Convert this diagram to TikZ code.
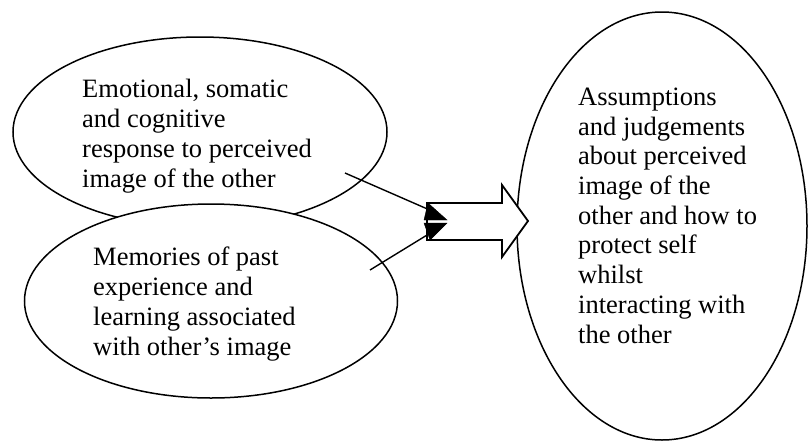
\documentclass[tikz,border=0pt]{standalone}
\usepackage{fontspec}
\setmainfont{Liberation Serif}
\usetikzlibrary{shapes.geometric}
\tikzset{
  oval/.style={ellipse, draw=black, line width=1.5pt, fill=white, inner sep=0pt},
  txt/.style={align=left, inner sep=0pt, anchor=base west, font=\fontsize{26.5}{29.7}\selectfont},
  conn/.style={line width=1.4pt},
  head/.style={fill=black, draw=black, line width=0.4pt},
  blockarrow/.style={draw=black, line width=1.8pt, fill=white, line join=miter}
}
\begin{document}
\begin{tikzpicture}[x=1pt,y=-1pt]
\useasboundingbox (0,0) rectangle (808,442);
\node[oval, minimum width=374pt, minimum height=190pt] (emo) at (200,132) {};
\node[oval, minimum width=373pt, minimum height=194pt] (mem) at (211,301) {};
\node[oval, minimum width=290pt, minimum height=428pt] (ass) at (662,226) {};
\node[txt] (emotxt) at (82,187) {Emotional, somatic\\and cognitive\\response to perceived\\image of the other};
\node[txt] (memtxt) at (93,355) {Memories of past\\experience and\\learning associated\\with other’s image};
\node[txt] (asstxt) at (578,343) {Assumptions\\and judgements\\about perceived\\image of the\\other and how to\\protect self\\whilst\\interacting with\\the other};
% block arrow
\coordinate (b1) at (427,203);
\coordinate (b2) at (502,203);
\coordinate (b3) at (502,185);
\coordinate (tip) at (528,221);
\coordinate (b5) at (502,257);
\coordinate (b6) at (502,240);
\coordinate (b7) at (427,240);
\draw[blockarrow] (b1) -- (b2) -- (b3) -- (tip) -- (b5) -- (b6) -- (b7) -- cycle;
% connectors
\coordinate (s1) at (345,173);
\coordinate (e1) at (432,211);
\coordinate (s2) at (370,270);
\coordinate (e2) at (432,232);
\draw[conn] (s1) -- (e1);
\draw[conn] (s2) -- (e2);
\fill[head] (428,203) -- (447,220) -- (424,220) -- cycle;
\fill[head] (424,223) -- (447,223) -- (430,240) -- cycle;
\end{tikzpicture}
\end{document}
